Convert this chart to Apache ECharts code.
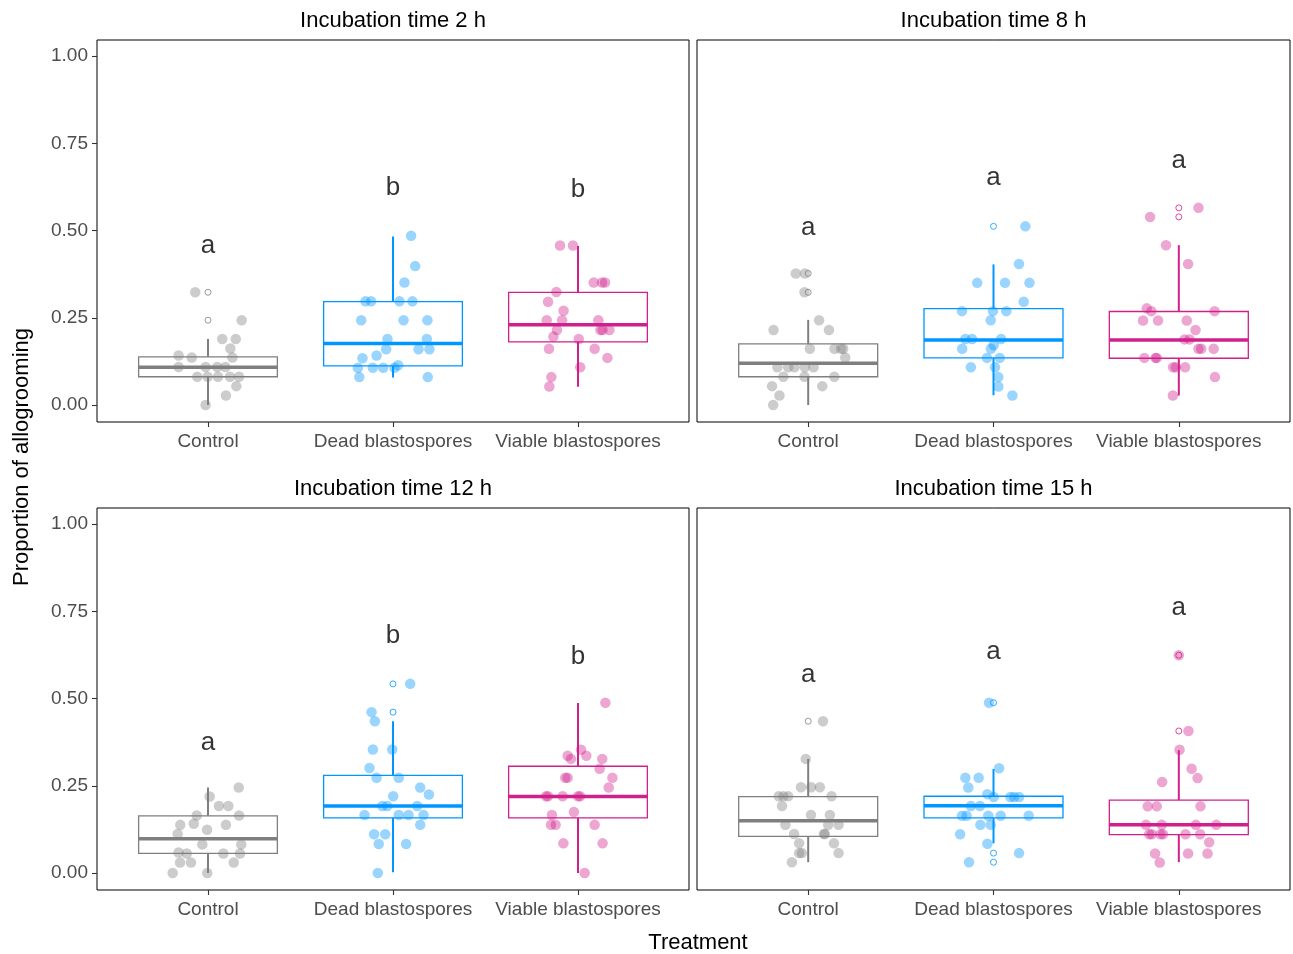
<!DOCTYPE html>
<html><head><meta charset="utf-8">
<script src="https://cdn.jsdelivr.net/npm/echarts@6/dist/echarts.min.js"></script>
<style>html,body{margin:0;padding:0;background:#fff}#c{width:1293px;height:954px}</style>
</head><body><div id="c"></div>
<script>
const categories = ['Control', 'Dead blastospores', 'Viable blastospores'];
const panelTitles = ['Incubation time 2 h', 'Incubation time 8 h', 'Incubation time 12 h', 'Incubation time 15 h'];
const yTicks = [0, 0.25, 0.5, 0.75, 1];

// box stats per category: [lower whisker, Q1, median, Q3, upper whisker]
const box2h = [[0, 0.081, 0.108, 0.138, 0.189], [0.079, 0.112, 0.176, 0.296, 0.483], [0.052, 0.181, 0.230, 0.323, 0.456]];
const box8h = [[0, 0.081, 0.120, 0.175, 0.244], [0.028, 0.135, 0.186, 0.276, 0.403], [0.027, 0.134, 0.186, 0.268, 0.458]];
const box12h = [[0, 0.056, 0.098, 0.164, 0.245], [0.002, 0.158, 0.192, 0.280, 0.435], [0, 0.158, 0.219, 0.306, 0.487]];
const box15h = [[0.031, 0.105, 0.150, 0.219, 0.327], [0.085, 0.158, 0.193, 0.220, 0.298], [0.031, 0.110, 0.138, 0.209, 0.352]];

// outliers per category
const out2h = [[0.323, 0.243], [], []];
const out8h = [[0.377, 0.323], [0.512], [0.565, 0.539]];
const out12h = [[], [0.542, 0.461], []];
const out15h = [[0.435], [0.488, 0.057, 0.031], [0.624, 0.407]];

// jittered observations: [horizontal jitter offset (category units), proportion]
const pts2hControl = [[-0.069,0.323],[0.182,0.243],[0.077,0.189],[0.150,0.189],[0.121,0.162],[-0.159,0.142],[-0.088,0.136],[0.132,0.136],[-0.159,0.109],[-0.013,0.109],[0.050,0.109],[0.094,0.109],[-0.058,0.081],[-0.002,0.081],[0.054,0.081],[0.119,0.081],[0.168,0.081],[0.153,0.054],[0.097,0.027],[-0.013,0.000]];
const pts2hDead = [[0.098,0.485],[0.120,0.398],[0.062,0.351],[-0.149,0.297],[-0.118,0.297],[0.035,0.297],[0.105,0.297],[-0.172,0.243],[0.057,0.243],[0.186,0.243],[-0.030,0.189],[0.183,0.189],[-0.037,0.160],[0.138,0.160],[0.197,0.160],[-0.089,0.142],[-0.165,0.134],[-0.190,0.107],[-0.109,0.107],[-0.053,0.107],[0.008,0.107],[0.028,0.114],[-0.182,0.080],[0.188,0.080]];
const pts2hViable = [[-0.097,0.457],[-0.027,0.457],[0.085,0.351],[0.130,0.351],[0.146,0.351],[-0.117,0.324],[-0.162,0.296],[-0.078,0.270],[-0.169,0.243],[-0.086,0.243],[0.110,0.243],[-0.114,0.215],[0.121,0.215],[0.133,0.215],[0.170,0.215],[-0.133,0.196],[0.004,0.189],[-0.157,0.161],[0.090,0.161],[0.159,0.135],[0.012,0.108],[-0.144,0.080],[-0.155,0.053]];

const pts8hControl = [[-0.067,0.377],[-0.018,0.377],[-0.020,0.323],[0.059,0.243],[-0.187,0.215],[0.112,0.215],[0.009,0.161],[0.142,0.161],[0.177,0.161],[0.189,0.161],[0.200,0.136],[-0.166,0.108],[-0.108,0.108],[-0.074,0.108],[-0.018,0.108],[0.029,0.108],[-0.134,0.081],[-0.020,0.081],[0.141,0.081],[-0.195,0.054],[0.076,0.054],[-0.155,0.027],[-0.189,0.000]];
const pts8hDead = [[0.172,0.512],[0.138,0.404],[-0.088,0.350],[0.062,0.350],[0.194,0.350],[0.163,0.296],[-0.170,0.269],[-0.003,0.269],[0.069,0.269],[-0.015,0.243],[-0.152,0.189],[-0.116,0.189],[0.041,0.189],[-0.169,0.161],[0.001,0.171],[-0.014,0.161],[-0.035,0.135],[0.034,0.135],[-0.122,0.108],[0.008,0.108],[0.026,0.080],[0.026,0.053],[0.102,0.027]];
const pts8hViable = [[0.106,0.565],[-0.155,0.539],[-0.069,0.458],[0.050,0.404],[-0.173,0.277],[-0.148,0.269],[0.193,0.269],[-0.193,0.242],[-0.112,0.242],[0.043,0.242],[0.090,0.215],[0.031,0.188],[0.058,0.188],[0.106,0.161],[0.121,0.161],[0.188,0.161],[-0.186,0.135],[-0.126,0.135],[-0.119,0.135],[-0.031,0.108],[-0.016,0.108],[0.034,0.108],[0.195,0.080],[-0.032,0.027]];

const pts12hControl = [[0.166,0.245],[0.009,0.219],[0.059,0.192],[0.110,0.192],[-0.061,0.165],[0.168,0.165],[-0.150,0.138],[-0.077,0.141],[0.097,0.138],[-0.005,0.124],[-0.164,0.112],[-0.031,0.082],[0.180,0.082],[-0.159,0.059],[-0.115,0.056],[0.083,0.056],[0.173,0.056],[-0.151,0.030],[-0.092,0.030],[0.139,0.030],[-0.191,0.000],[-0.004,0.000]];
const pts12hDead = [[0.093,0.542],[-0.116,0.461],[-0.098,0.435],[-0.109,0.354],[-0.004,0.354],[-0.127,0.301],[-0.089,0.273],[0.031,0.273],[0.147,0.245],[0.194,0.225],[0.001,0.220],[-0.058,0.192],[-0.031,0.192],[0.131,0.192],[-0.154,0.166],[0.031,0.166],[0.084,0.166],[0.165,0.166],[0.147,0.138],[-0.102,0.111],[-0.042,0.111],[-0.077,0.083],[0.071,0.083],[-0.082,0.000]];
const pts12hViable = [[0.148,0.488],[0.016,0.353],[-0.056,0.336],[-0.038,0.327],[0.045,0.336],[0.131,0.327],[0.117,0.299],[-0.069,0.273],[-0.056,0.273],[0.186,0.273],[0.166,0.245],[-0.173,0.220],[-0.162,0.220],[-0.083,0.220],[0.000,0.220],[0.011,0.220],[-0.022,0.175],[-0.141,0.166],[-0.146,0.138],[-0.121,0.138],[0.090,0.138],[-0.079,0.085],[0.133,0.085],[0.036,0.000]];

const pts15hControl = [[0.080,0.435],[-0.013,0.327],[-0.039,0.246],[0.016,0.246],[0.063,0.246],[-0.159,0.220],[-0.134,0.220],[-0.108,0.220],[0.126,0.220],[-0.141,0.192],[0.015,0.166],[0.117,0.166],[-0.123,0.138],[0.108,0.138],[0.164,0.138],[-0.076,0.112],[0.085,0.112],[0.090,0.112],[-0.049,0.085],[0.139,0.085],[-0.049,0.057],[-0.034,0.057],[0.164,0.057],[-0.088,0.031]];
const pts15hDead = [[-0.024,0.488],[0.030,0.300],[-0.152,0.273],[-0.080,0.273],[-0.136,0.245],[-0.033,0.226],[0.001,0.218],[0.091,0.218],[0.111,0.218],[0.138,0.218],[-0.122,0.192],[-0.073,0.192],[-0.170,0.164],[-0.145,0.164],[-0.028,0.164],[0.039,0.164],[0.190,0.164],[-0.071,0.138],[-0.015,0.138],[-0.180,0.111],[-0.033,0.084],[0.138,0.057],[-0.132,0.031]];
const pts15hViable = [[0.000,0.624],[0.052,0.407],[0.004,0.353],[0.069,0.299],[0.101,0.272],[-0.090,0.261],[-0.168,0.191],[-0.119,0.191],[0.117,0.191],[-0.177,0.138],[-0.092,0.138],[0.092,0.138],[0.202,0.138],[-0.160,0.111],[-0.146,0.111],[-0.099,0.111],[-0.085,0.111],[0.036,0.111],[0.115,0.111],[0.164,0.088],[-0.128,0.056],[0.050,0.056],[0.155,0.056],[-0.103,0.030]];

// significance letters and their heights
const letters2h = ['a', 'b', 'b'];   const letterY2h = [0.456, 0.622, 0.616];
const letters8h = ['a', 'a', 'a'];   const letterY8h = [0.507, 0.650, 0.699];
const letters12h = ['a', 'b', 'b'];  const letterY12h = [0.372, 0.679, 0.619];
const letters15h = ['a', 'a', 'a'];  const letterY15h = [0.567, 0.633, 0.759];

const panels = [
  { box: box2h, out: out2h, pts: [pts2hControl, pts2hDead, pts2hViable], letters: letters2h, letterY: letterY2h },
  { box: box8h, out: out8h, pts: [pts8hControl, pts8hDead, pts8hViable], letters: letters8h, letterY: letterY8h },
  { box: box12h, out: out12h, pts: [pts12hControl, pts12hDead, pts12hViable], letters: letters12h, letterY: letterY12h },
  { box: box15h, out: out15h, pts: [pts15hControl, pts15hDead, pts15hViable], letters: letters15h, letterY: letterY15h }
];

const FONT = '"Liberation Sans", Arial, Helvetica, sans-serif';
const colors = ['#7f7f7f', '#0096ff', '#d0208b'];
const pointColors = ['rgba(127,127,127,0.5)', 'rgba(0,150,255,0.5)', 'rgba(208,32,139,0.5)'];

const gridPos = [
  { left: 97, top: 40, width: 592, height: 382 },
  { left: 697, top: 40, width: 593, height: 382 },
  { left: 97, top: 508, width: 592, height: 382 },
  { left: 697, top: 508, width: 593, height: 382 }
];

const grids = [], xAxes = [], yAxes = [], series = [], graphics = [];

gridPos.forEach((g, i) => {
  grids.push(Object.assign({ show: true, borderColor: '#000', borderWidth: 1, backgroundColor: 'transparent', containLabel: false }, g));
  xAxes.push({
    type: 'value', gridIndex: i, min: -0.6, max: 2.6, position: 'bottom',
    splitLine: { show: false }, axisLine: { show: false, onZero: false },
    axisTick: { show: true, customValues: [0, 1, 2], length: 5, lineStyle: { color: '#333', width: 1.1 } },
    axisLabel: { show: true, customValues: [0, 1, 2], formatter: v => categories[Math.round(v)], color: '#4d4d4d', fontSize: 19, fontFamily: FONT, margin: 10 }
  });
  const leftCol = (i % 2 === 0);
  yAxes.push({
    type: 'value', gridIndex: i, min: -0.0487, max: 1.046, position: 'left',
    splitLine: { show: false }, axisLine: { show: false, onZero: false },
    axisTick: { show: leftCol, customValues: yTicks, length: 5, lineStyle: { color: '#333', width: 1.1 } },
    axisLabel: { show: leftCol, customValues: yTicks, formatter: v => v.toFixed(2), color: '#4d4d4d', fontSize: 19, fontFamily: FONT, margin: 9 }
  });
  graphics.push({
    type: 'text', x: g.left + g.width / 2, y: g.top - 19,
    style: { text: panelTitles[i], fill: '#000', font: '22px ' + FONT, align: 'center', verticalAlign: 'middle', textAlign: 'center', textVerticalAlign: 'middle' }
  });

  const p = panels[i];
  // boxes
  series.push({
    type: 'custom', xAxisIndex: i, yAxisIndex: i, silent: true, animation: false, z: 2,
    data: p.box.map((b, c) => [c, b[0], b[1], b[2], b[3], b[4]]),
    renderItem: (params, api) => {
      const c = api.value(0);
      const col = colors[c];
      const pMin = api.coord([c, api.value(1)]);
      const pQ1 = api.coord([c, api.value(2)]);
      const pMed = api.coord([c, api.value(3)]);
      const pQ3 = api.coord([c, api.value(4)]);
      const pMax = api.coord([c, api.value(5)]);
      const hw = api.size([0.75, 0])[0] / 2;
      const x = pMed[0];
      return {
        type: 'group', children: [
          { type: 'line', shape: { x1: x, y1: pMax[1], x2: x, y2: pQ3[1] }, style: { stroke: col, lineWidth: 2 } },
          { type: 'line', shape: { x1: x, y1: pQ1[1], x2: x, y2: pMin[1] }, style: { stroke: col, lineWidth: 2 } },
          { type: 'rect', shape: { x: x - hw, y: pQ3[1], width: 2 * hw, height: pQ1[1] - pQ3[1] }, style: { fill: 'none', stroke: col, lineWidth: 1.3 } },
          { type: 'line', shape: { x1: x - hw, y1: pMed[1], x2: x + hw, y2: pMed[1] }, style: { stroke: col, lineWidth: 3.5 } }
        ]
      };
    }
  });
  // outliers
  p.out.forEach((arr, c) => {
    if (!arr.length) return;
    series.push({
      type: 'scatter', xAxisIndex: i, yAxisIndex: i, silent: true, animation: false, z: 3,
      symbol: 'circle', symbolSize: 6,
      itemStyle: { color: '#fff', borderColor: colors[c], borderWidth: 1 },
      data: arr.map(v => [c, v])
    });
  });
  // jittered points
  p.pts.forEach((arr, c) => {
    series.push({
      type: 'scatter', xAxisIndex: i, yAxisIndex: i, silent: true, animation: false, z: 4,
      symbol: 'circle', symbolSize: 10.5,
      itemStyle: { color: pointColors[c], borderWidth: 0 },
      data: arr.map(d => [c + d[0], d[1]])
    });
  });
  // letters
  series.push({
    type: 'scatter', xAxisIndex: i, yAxisIndex: i, silent: true, animation: false, z: 5,
    symbolSize: 0,
    label: { show: true, position: 'inside', formatter: pr => pr.name, color: '#000', fontSize: 26, fontFamily: FONT },
    data: p.letters.map((l, c) => ({ name: l, value: [c, p.letterY[c]] }))
  });
});

graphics.push({
  type: 'text', x: 698, y: 943,
  style: { text: 'Treatment', fill: '#000', font: '22px ' + FONT, align: 'center', verticalAlign: 'middle', textAlign: 'center', textVerticalAlign: 'middle' }
});
graphics.push({
  type: 'text', x: 22, y: 457, rotation: Math.PI / 2,
  style: { text: 'Proportion of allogrooming', fill: '#000', font: '22px ' + FONT, align: 'center', verticalAlign: 'middle', textAlign: 'center', textVerticalAlign: 'middle' }
});

const chart = echarts.init(document.getElementById('c'), null, { renderer: 'canvas' });
chart.setOption({
  animation: false,
  backgroundColor: '#fff',
  grid: grids, xAxis: xAxes, yAxis: yAxes, series: series, graphic: graphics
});
</script>
</body></html>
